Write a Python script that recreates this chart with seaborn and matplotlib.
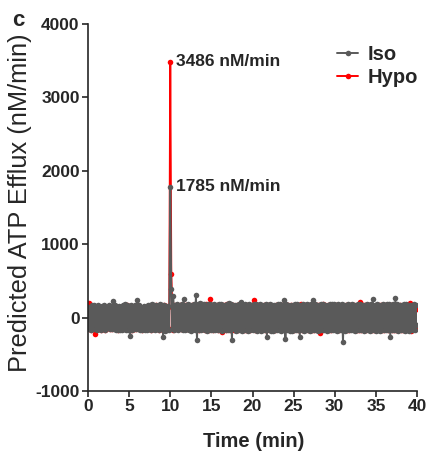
import numpy as np
import pandas as pd
import matplotlib
matplotlib.use("Agg")
import matplotlib.pyplot as plt
import seaborn as sns
from matplotlib.lines import Line2D

# ---------------- data ----------------
time_min = np.arange(0, 40.001, 0.125)  # sampling grid, 321 samples

iso_efflux = [
    150, -160, 140, -170, 165, -150, 175, -155, 145, -170, 170, -150, 140, -175, 160, -135,
    165, -175, 150, -145, 175, -160, 145, -155, 230, -150, 165, -170, 140, -175, 160, -170,
    150, -165, 170, -150, 185, -165, 175, -170, 160, -245, 165, -175, 150, -160, 170, -155,
    235, -150, 165, -170, 140, -175, 160, -170, 150, -165, 170, -150, 165, -175, 185, -160,
    170, -165, 175, -150, 160, -175, 180, -160, 165, -270, 175, -185, 160, -170, 155, -170,
    1785, 385, -160, 295, -175, 165, -150, 190, -170, 175, -160, 180, -165, 250, -170, 175,
    -155, 185, -170, 165, -180, 175, -160, 180, -170, 310, -310, 185, -170, 195, -175, 180,
    -160, 185, -170, 175, -185, 190, -150, 180, -175, 165, -170, 185, -175, 170, -165, 180,
    -175, 185, -180, 170, -150, 175, -170, 185, -175, 195, -165, 180, -310, 170, -155, 175,
    -180, 165, -170, 185, -175, 215, -185, 165, -170, 180, -165, 175, -180, 185, -170, 175,
    -165, 180, -175, 190, -185, 170, -155, 180, -180, 175, -170, 165, -175, 185, -260, 165,
    -170, 180, -185, 175, -180, 165, -175, 170, -165, 185, -170, 180, -180, 175, -165, 240,
    -290, 180, -175, 165, -185, 170, -180, 175, -165, 185, -170, 180, -175, 165, -260, 175,
    -170, 185, -180, 175, -165, 190, -175, 170, -180, 185, -170, 245, -175, 180, -165, 175,
    -180, 170, -175, 185, -165, 180, -170, 175, -185, 165, -175, 190, -170, 180, -165, 185,
    -175, 170, -180, 185, -165, 175, -170, 180, -335, 175, -180, 165, -170, 185, -175, 170,
    -165, 180, -175, 170, -185, 175, -170, 185, -165, 180, -175, 170, -180, 165, -170, 185,
    -175, 170, -180, 185, -170, 255, -165, 175, -185, 180, -175, 170, -180, 165, -170, 185,
    -165, 175, -175, 180, -170, 185, -260, 175, -170, 180, -175, 265, -170, 180, -185, 165,
    -175, 170, -165, 180, -180, 185, -175, 170, -185, 165, -170, 175, -165, 180, -175, 170,
    -100,
]

hypo_efflux = [
    160, 205, 140, -165, 150, -155, 145, -225, 140, -160, 150, -145, 135, -165, 150, -140,
    155, -165, 145, -140, 160, -150, 140, -150, 160, -145, 155, -160, 135, -165, 150, -160,
    145, -155, 160, -145, 170, -155, 165, -160, 150, -165, 155, -165, 145, -150, 160, -150,
    165, -145, 155, -160, 135, -165, 150, -160, 145, -155, 160, -145, 155, -165, 170, -150,
    160, -155, 165, -145, 150, -165, 170, -150, 160, -160, 165, -150, 160, -145, 150, -150,
    3486, 590, 150, -165, 165, -155, 155, 165, -145, 175, -160, 165, -150, 170, -155, 165,
    -150, 175, -160, 155, -170, 165, -150, 170, -160, 165, -175, 160, -165, 170, -150, 175,
    -160, 165, -175, 180, -145, 170, -165, 255, -160, 175, -165, 160, -155, 170, -165, 175,
    -170, 160, -200, 165, -160, 175, -165, 180, -155, 170, -175, 160, -145, 165, -170, 155,
    -160, 175, -165, 165, -155, 175, -170, 160, -165, 155, -175, 170, -160, 165, -170, 155,
    -150, 235, -165, 160, -175, 170, -150, 165, -170, 155, -160, 175, -165, 155, -170, 170,
    -160, 165, -175, 155, -170, 160, -165, 175, -155, 170, -160, 165, -170, 175, -155, 170,
    -170, 165, -155, 175, -160, 170, -165, 155, -170, 165, -160, 175, -170, 165, -155, 180,
    -165, 160, -170, 175, -160, 170, -165, 170, -155, 165, -170, 160, -165, 175, -155, 170,
    -160, 165, -215, 155, -165, 180, -160, 170, -155, 175, -165, 160, -170, 175, -155, 165,
    -160, 170, -175, 165, -170, 155, -160, 175, -165, 160, -155, 170, -165, 160, -175, 165,
    -160, 175, -155, 170, -165, 160, -170, 155, -165, 210, -175, 165, -160, 170, -175, 170,
    -160, 165, -155, 170, -175, 160, -165, 155, -170, 175, -160, 165, -155, 170, -165, 160,
    -175, 175, -160, 165, -170, 175, -160, 170, -165, 155, -175, 160, -165, 170, -155, 175,
    -170, 160, -165, 155, -175, 165, -160, 170, -155, 200, -180, 165, -160, 170, -150, 160,
    120,
]

series_names = ["Iso", "Hypo"]
series_colors = {"Iso": "#5a5a5a", "Hypo": "#ff0000"}
peak_time = 10.0
peak_iso = 1785
peak_hypo = 3486

x_ticks = [0, 5, 10, 15, 20, 25, 30, 35, 40]
y_ticks = [-1000, 0, 1000, 2000, 3000, 4000]

# ---------------- style ----------------
sns.set_style("ticks")
plt.rcParams["font.family"] = ["Liberation Sans", "DejaVu Sans"]
plt.rcParams["axes.linewidth"] = 1.2
plt.rcParams["axes.unicode_minus"] = False

df = pd.concat([
    pd.DataFrame({"Time": time_min, "Efflux": iso_efflux, "Condition": "Iso"}),
    pd.DataFrame({"Time": time_min, "Efflux": hypo_efflux, "Condition": "Hypo"}),
], ignore_index=True)

fig = plt.figure(figsize=(4.31, 4.53), dpi=100)
ax = fig.add_axes([88 / 431, 1 - 391 / 453, 329 / 431, 367 / 453])

line_kw = dict(estimator=None, sort=False, marker="o", markersize=4.0,
               markeredgewidth=0, linewidth=1.4, legend=False)
# Hypo first so Iso sits on top (as in the reference)
sns.lineplot(data=df[df["Condition"] == "Hypo"], x="Time", y="Efflux",
             color=series_colors["Hypo"], ax=ax, **line_kw)
sns.lineplot(data=df[df["Condition"] == "Iso"], x="Time", y="Efflux",
             color=series_colors["Iso"], ax=ax, **line_kw)

ax.set_xlim(0, 40)
ax.set_ylim(-1000, 4000)
ax.set_xticks(x_ticks)
ax.set_yticks(y_ticks)
ax.tick_params(axis="both", direction="out", length=4, width=1.2,
               labelsize=12.5, pad=2)
for lab in ax.get_xticklabels() + ax.get_yticklabels():
    lab.set_fontweight("bold")
sns.despine(ax=ax)

ax.set_xlabel("Time (min)", fontsize=14.5, fontweight="bold")
ax.set_ylabel("Predicted ATP Efflux (nM/min)", fontsize=18.3)
ax.xaxis.set_label_coords(0.503, -0.112)
ax.yaxis.set_label_coords(-0.17, 0.514)
ax.xaxis.label.set_va("top")

ax.annotate(f"{peak_hypo} nM/min", xy=(peak_time, peak_hypo), xytext=(4.5, 0),
            textcoords="offset points", ha="left", va="center",
            fontsize=12.5, fontweight="bold")
ax.annotate(f"{peak_iso} nM/min", xy=(peak_time, peak_iso), xytext=(4.5, 0),
            textcoords="offset points", ha="left", va="center",
            fontsize=12.5, fontweight="bold")

handles = [Line2D([], [], color=series_colors[n], marker="o", markersize=4.0,
                  markeredgewidth=0, linewidth=1.4) for n in series_names]
leg = ax.legend(handles, series_names, loc="upper left",
                bbox_to_anchor=(337 / 431, 1 - 45 / 453),
                bbox_transform=fig.transFigure, frameon=False,
                handlelength=1.05, handletextpad=0.45, labelspacing=0.22,
                borderaxespad=0, borderpad=0,
                prop={"size": 14.5, "weight": "bold"})

fig.text(12 / 431, 1 - 10 / 453, "c", fontsize=16, fontweight="bold",
         ha="left", va="top")

fig.savefig("out.png", dpi=100)
